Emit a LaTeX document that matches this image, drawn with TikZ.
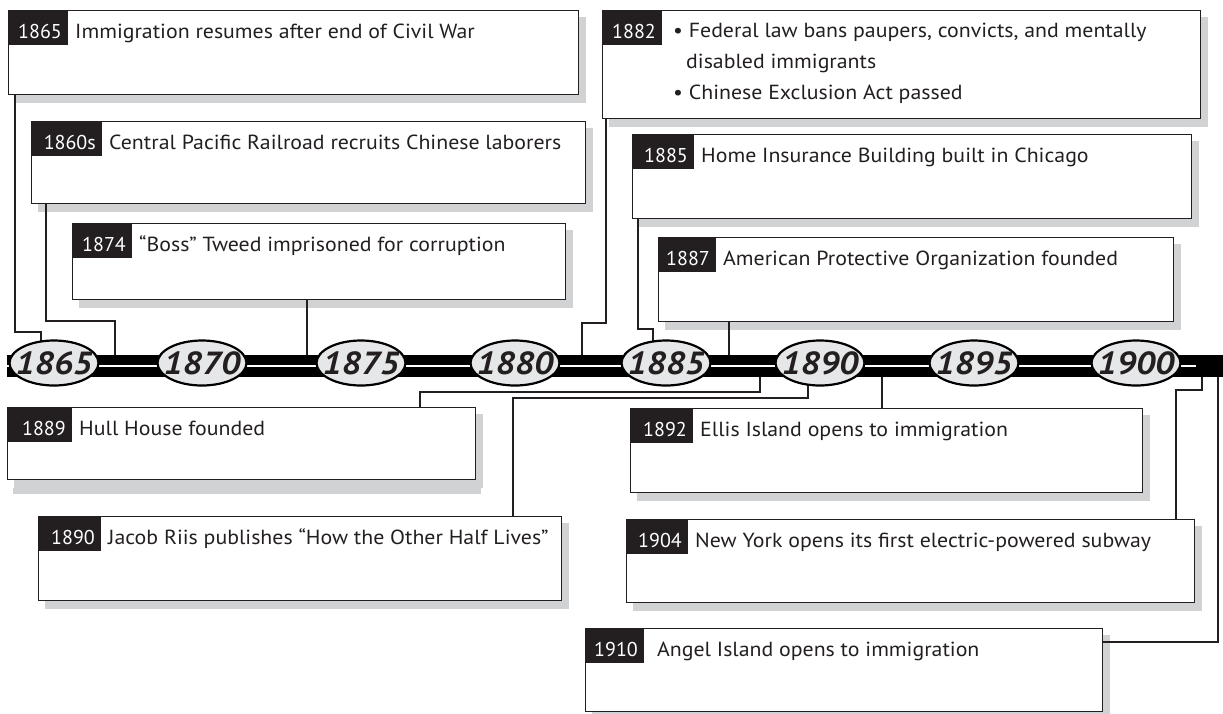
\documentclass[tikz,border=0pt]{standalone}
\usepackage{fontspec}
\setmainfont{PT Sans}
\newfontfamily\bodyfont{PT Sans}[FakeStretch=1.07]
\newfontfamily\yearfont{PT Sans}[FakeStretch=1.1]
\usetikzlibrary{shapes.geometric}
\definecolor{shadowc}{HTML}{D1D2D4}
\definecolor{ink}{HTML}{231F20}
\definecolor{ellfill}{HTML}{E6E7E8}
\tikzset{
  evframe/.style={rectangle, draw=ink, line width=1.3pt, fill=white, inner sep=0pt},
  tabfill/.style={rectangle, fill=ink, inner sep=0pt},
  tabtext/.style={text=white, font=\fontsize{20}{22}\selectfont, inner sep=0pt, anchor=base east},
  evtext/.style={text=ink, font=\bodyfont\fontsize{20.4}{22}\selectfont, inner sep=0pt, anchor=base west},
  conn/.style={draw=ink, line width=1.1pt},
  yearell/.style={ellipse, draw=black, line width=2.2pt, fill=ellfill, minimum width=89pt, minimum height=45pt, inner sep=0pt},
  yeartext/.style={inner sep=0pt, text=ink, font=\yearfont\bfseries\itshape\fontsize{32}{32}\selectfont}
}
\newcommand\evbox[8]{%
  \fill[shadowc] (#2+7,#3+7) rectangle (#4+8,#5+9);
  \node[evframe, minimum width={(#4-#2)*1pt}, minimum height={(#5-#3)*1pt}, anchor=north west] (#1) at (#2,#3) {};
  \node[tabfill, minimum width={#6*1pt}, minimum height=35pt, anchor=north west] (#1t) at (#2,#3) {};
  \node[tabtext] (#1y) at (#2+#6-6,#3+28.5) {#7};
  \node[evtext] (#1x) at (#2+#6+7,#3+28.5) {#8};
}
\newcommand\yearmark[3]{%
  \node[yearell] (#1) at (#2,363) {};
  \node[yeartext] (#1t) at ([yshift=-0.5pt]#1.center) {#3};
}
\begin{document}
\begin{tikzpicture}[x=1pt,y=-1pt]
\useasboundingbox (0,0) rectangle (1223,713);
\fill[white] (0,0) rectangle (1223,713);
% boxes
\evbox{b1865}{8}{10}{578}{94}{60}{1865}{Immigration resumes after end of Civil War}
\evbox{b1860}{31}{121}{585}{203}{71}{1860s}{Central Pacific Railroad recruits Chinese laborers}
\evbox{b1874}{72}{223}{565}{299}{60}{1874}{“Boss” Tweed imprisoned for corruption}
\evbox{b1882}{602}{10}{1200}{118}{60}{1882}{}
\node[evtext] (b1882a) at (673,37.5) {• Federal law bans paupers, convicts, and mentally};
\node[evtext] (b1882b) at (686,68) {disabled immigrants};
\node[evtext] (b1882c) at (673,99) {• Chinese Exclusion Act passed};
\evbox{b1885}{632}{134}{1191}{218}{62}{1885}{Home Insurance Building built in Chicago}
\evbox{b1887}{658}{237}{1173}{321}{58}{1887}{American Protective Organization founded}
\fill[shadowc] (13,488) rectangle (481,494);
\evbox{b1889}{7}{407}{475}{479}{65}{1889}{Hull House founded}
\evbox{b1890}{38}{516}{561}{600}{63}{1890}{Jacob Riis publishes “How the Other Half Lives”}
\evbox{b1892}{630}{408}{1142}{492}{63}{1892}{Ellis Island opens to immigration}
\evbox{b1904}{626}{519}{1194}{602}{62}{1904}{New York opens its first electric-powered subway}
\evbox{b1910}{585}{628}{1102}{711}{59}{1910}{\hspace{6pt}Angel Island opens to immigration}
% connectors
\draw[conn] ([xshift=7pt]b1865.south west) |- (41,332) -- (41,365);
\draw[conn] ([xshift=15pt]b1860.south west) |- (115,321) -- (115,365);
\draw[conn] ([xshift=235pt]b1874.south west) -- (307,365);
\draw[conn] ([xshift=4pt]b1882.south west) |- (582,323) -- (582,365);
\draw[conn] ([xshift=6pt]b1885.south west) |- (653,329) -- (653,365);
\draw[conn] ([xshift=71pt]b1887.south west) -- (729,365);
\draw[conn] ([xshift=413pt]b1889.north west) |- (760,392) -- (760,365);
\draw[conn] ([xshift=475pt]b1890.north west) |- (808,398) -- (808,365);
\draw[conn] ([xshift=252pt]b1892.north west) -- (882,365);
\draw[conn] ([xshift=550pt]b1904.north west) |- (1202,390) -- (1202,365);
\draw[conn] ([yshift=-14pt]b1910.north east) -| (1218,365);
% timeline bar
\fill[black] (7,355) rectangle (1223,376.5);
\fill[white] (7,364.5) rectangle (1196,367);
\yearmark{e1865}{54}{1865}
\yearmark{e1870}{202}{1870}
\yearmark{e1875}{361}{1875}
\yearmark{e1880}{515}{1880}
\yearmark{e1885}{666}{1885}
\yearmark{e1890}{820}{1890}
\yearmark{e1895}{974}{1895}
\yearmark{e1900}{1136}{1900}
\end{tikzpicture}
\end{document}
